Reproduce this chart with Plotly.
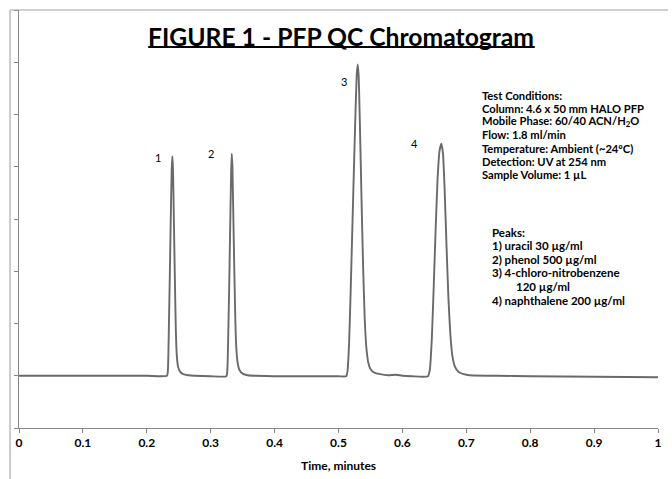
import plotly.graph_objects as go

# Chromatogram trace (time in minutes, detector signal)
time_min = [
    0.000, 0.100, 0.200, 0.2315,
    0.2330, 0.2345, 0.2360, 0.2375, 0.2390, 0.2400, 0.2410, 0.2425, 0.2440, 0.2455, 0.2470, 0.2490, 0.2520, 0.2570, 0.2650, 0.2750,
    0.3000, 0.3245,
    0.3260, 0.3275, 0.3290, 0.3305, 0.3320, 0.3330, 0.3340, 0.3355, 0.3370, 0.3385, 0.3400, 0.3420, 0.3450, 0.3500, 0.3580, 0.3700,
    0.4000, 0.4500, 0.5000, 0.5120,
    0.5140, 0.5165, 0.5190, 0.5215, 0.5240, 0.5265, 0.5285, 0.5300, 0.5315, 0.5335, 0.5360, 0.5385, 0.5410, 0.5435, 0.5465, 0.5500, 0.5560, 0.5650, 0.5780,
    0.5900, 0.6000, 0.6150, 0.6400,
    0.6430, 0.6460, 0.6490, 0.6520, 0.6550, 0.6580, 0.6610, 0.6635, 0.6660, 0.6690, 0.6720, 0.6750, 0.6780, 0.6820, 0.6880, 0.6960, 0.7050,
    0.7500, 0.8000, 0.9000, 1.0000,
]
signal = [
    0, 0, 0, 0,
    10, 90, 190, 300, 395, 420, 395, 290, 180, 85, 38, 17, 8, 3, 1, 0,
    -1, -1,
    10, 80, 175, 285, 390, 425, 400, 300, 200, 110, 55, 26, 11, 4, 1, 0,
    -1, -1, -1, -1,
    8, 60, 160, 275, 390, 500, 575, 596, 575, 480, 340, 210, 110, 55, 26, 13, 6, 3, 1,
    2, 0, -1, -1,
    12, 70, 170, 280, 375, 430, 444, 425, 360, 250, 150, 80, 40, 18, 7, 3, 1,
    0, -1, -2, -3,
]

peak_labels = ["1", "2", "3", "4"]
peak_label_x = [0.218, 0.300, 0.509, 0.619]
peak_label_y = [418, 426, 564, 445]

x_ticks = [0, 0.1, 0.2, 0.3, 0.4, 0.5, 0.6, 0.7, 0.8, 0.9, 1]
x_tick_text = ["0", "0.1", "0.2", "0.3", "0.4", "0.5", "0.6", "0.7", "0.8", "0.9", "1"]
y_ticks = [-100, 0, 100, 200, 300, 400, 500, 600, 700]

title_text = "FIGURE 1 - PFP QC Chromatogram"
x_title = "Time, minutes"
conditions = [
    "Test Conditions:",
    "Column: 4.6 x 50 mm HALO PFP",
    "Mobile Phase: 60/40 ACN/H<sub>2</sub>O",
    "Flow: 1.8 ml/min",
    "Temperature: Ambient (~24ºC)",
    "Detection: UV at 254 nm",
    "Sample Volume: 1 µL",
]
peaks_info = [
    "Peaks:",
    "1) uracil 30 µg/ml",
    "2) phenol 500 µg/ml",
    "3) 4-chloro-nitrobenzene",
    "120 µg/ml",
    "4) naphthalene 200 µg/ml",
]

FONT = "Lato, Carlito, 'Open Sans', sans-serif"
W, H = 672, 479
ML, MR, MT, MB = 19, 10, 10, 51
PW, PH = W - ML - MR, H - MT - MB


def px(x):
    return (x - ML) / PW


def py(y):
    return 1 - (y - MT) / PH


fig = go.Figure()
fig.add_trace(go.Scatter(
    x=time_min, y=signal, mode="lines",
    line=dict(color="#6a6a6a", width=1.9, shape="spline", smoothing=0.5),
    hoverinfo="skip", showlegend=False,
))

annotations = []
for lab, lx, ly in zip(peak_labels, peak_label_x, peak_label_y):
    annotations.append(dict(x=lx, y=ly, xref="x", yref="y", text=lab, showarrow=False,
                            font=dict(family=FONT, size=11, color="#000000")))

annotations.append(dict(x=px(343.5), y=py(36), xref="paper", yref="paper",
                        text="<b>" + title_text + "</b>", showarrow=False,
                        font=dict(family=FONT, size=24.7, color="#000000"),
                        xanchor="center", yanchor="middle"))
annotations.append(dict(x=px(340.5), y=py(465), xref="paper", yref="paper",
                        text="<b>" + x_title + "</b>", showarrow=False,
                        font=dict(family=FONT, size=12, color="#000000"),
                        xanchor="center", yanchor="middle"))

for i, line in enumerate(conditions):
    annotations.append(dict(x=px(484), y=py(95 + i * 13.3), xref="paper", yref="paper",
                            text="<b>" + line + "</b>", showarrow=False,
                            font=dict(family=FONT, size=11.2, color="#000000"),
                            xanchor="left", yanchor="middle", borderpad=0))
for i, line in enumerate(peaks_info):
    xx = 518 if line.startswith("120") else 494
    annotations.append(dict(x=px(xx), y=py(232 + i * 13.6), xref="paper", yref="paper",
                            text="<b>" + line + "</b>", showarrow=False,
                            font=dict(family=FONT, size=11.5, color="#000000"),
                            xanchor="left", yanchor="middle", borderpad=0))

shapes = [
    # title underline
    dict(type="line", xref="paper", yref="paper", x0=px(149), x1=px(538),
         y0=py(47), y1=py(47), line=dict(color="#000000", width=1.8)),
    # chart-area border (top and left)
    dict(type="line", xref="paper", yref="paper", x0=px(10), x1=px(W),
         y0=py(10), y1=py(10), line=dict(color="#a0a0a0", width=1)),
    dict(type="line", xref="paper", yref="paper", x0=px(10), x1=px(10),
         y0=py(H), y1=py(10), line=dict(color="#cccccc", width=2)),
]

fig.update_layout(
    width=W, height=H,
    margin=dict(l=ML, r=MR, t=MT, b=MB, pad=0),
    paper_bgcolor="white", plot_bgcolor="white",
    annotations=annotations, shapes=shapes,
    xaxis=dict(range=[0, 1], tickvals=x_ticks, ticktext=["<b>" + t + "</b>" for t in x_tick_text],
               showgrid=False, zeroline=False, showline=True, linecolor="#868686", linewidth=1,
               ticks="outside", ticklen=4, tickcolor="#868686",
               tickfont=dict(family=FONT, size=12, color="#000000")),
    yaxis=dict(range=[-100, 700], tickvals=y_ticks, showticklabels=False,
               showgrid=False, zeroline=False, showline=True, linecolor="#868686", linewidth=1,
               ticks="outside", ticklen=4, tickcolor="#868686"),
)

fig.write_html("out.html", config={"displayModeBar": False},
               post_script="document.body.style.margin='0px';document.body.style.padding='0px';")
